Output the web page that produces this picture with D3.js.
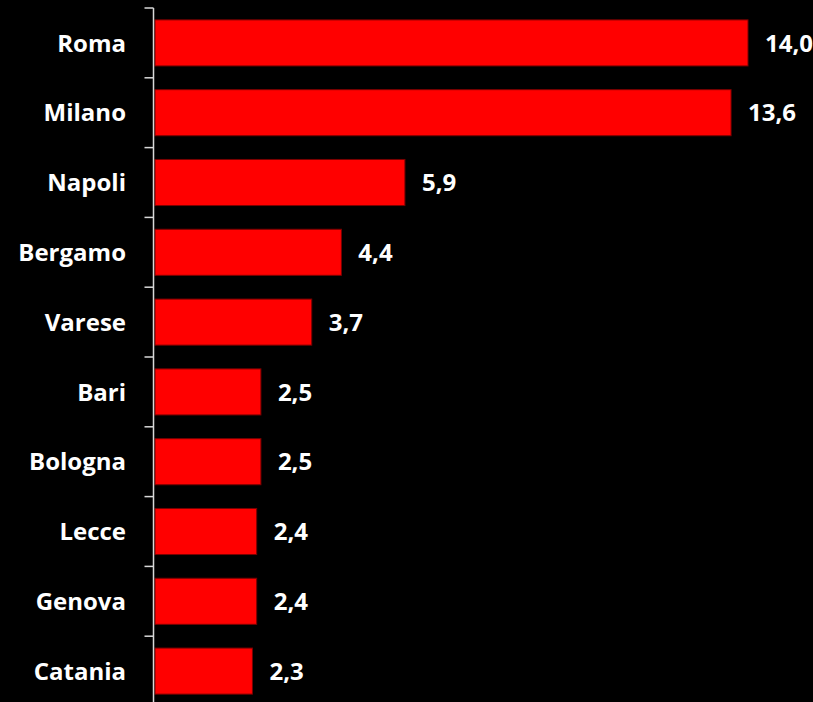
<!DOCTYPE html>
<html>
<head>
<meta charset="utf-8">
<script src="https://cdn.jsdelivr.net/npm/d3@7"></script>
<style>
  html, body { margin: 0; padding: 0; background: #000; }
  svg { display: block; }
  text { font-family: "Open Sans", sans-serif; font-weight: 700; fill: #fff; }
</style>
</head>
<body>
<div id="chart"></div>
<script>
var cities = ["Roma", "Milano", "Napoli", "Bergamo", "Varese", "Bari", "Bologna", "Lecce", "Genova", "Catania"];
var values = [14.0, 13.6, 5.9, 4.4, 3.7, 2.5, 2.5, 2.4, 2.4, 2.3];

var width = 813, height = 702;

var svg = d3.select("#chart").append("svg")
    .attr("width", width)
    .attr("height", height);

// asse y: categorie
var y = d3.scaleBand()
    .domain(cities)
    .range([8, 706])
    .paddingInner(0.34)
    .paddingOuter(0.17);

var x = d3.scaleLinear()
    .domain([0, 14])
    .range([155, 748]);

var data = cities.map(function(c, i){ return {citta: c, valore: values[i]}; });

// barre
svg.selectAll(".bar")
    .data(data)
    .enter().append("rect")
    .attr("class", "bar")
    .attr("x", x(0))
    .attr("y", function(d){ return y(d.citta); })
    .attr("width", function(d){ return x(d.valore) - x(0); })
    .attr("height", y.bandwidth())
    .style("fill", "#ff0000")
    .style("stroke", "#7a0000")
    .style("stroke-width", 1);

// asse con tacche ai bordi delle categorie
var axisX = 153.5;
svg.append("line")
    .attr("x1", axisX).attr("x2", axisX)
    .attr("y1", y.range()[0]).attr("y2", y.range()[1])
    .style("stroke", "#d9d9d9")
    .style("stroke-width", 1.5);

var bounds = d3.range(cities.length + 1).map(function(i){ return y.range()[0] + i * y.step(); });
svg.selectAll(".tick")
    .data(bounds)
    .enter().append("line")
    .attr("class", "tick")
    .attr("x1", axisX - 9).attr("x2", axisX)
    .attr("y1", function(d){ return d; })
    .attr("y2", function(d){ return d; })
    .style("stroke", "#d9d9d9")
    .style("stroke-width", 1.5);

// etichette categorie
svg.selectAll(".label")
    .data(data)
    .enter().append("text")
    .attr("class", "label")
    .attr("x", 126)
    .attr("y", function(d){ return y(d.citta) + y.bandwidth() / 2; })
    .attr("dy", "0.36em")
    .attr("text-anchor", "end")
    .style("font-size", "24px")
    .text(function(d){ return d.citta; });

// valori
svg.selectAll(".valore")
    .data(data)
    .enter().append("text")
    .attr("class", "valore")
    .attr("x", function(d){ return x(d.valore) + 17; })
    .attr("y", function(d){ return y(d.citta) + y.bandwidth() / 2; })
    .attr("dy", "0.36em")
    .style("font-size", "24px")
    .text(function(d){ return d.valore.toFixed(1).replace(".", ","); });
</script>
</body>
</html>
